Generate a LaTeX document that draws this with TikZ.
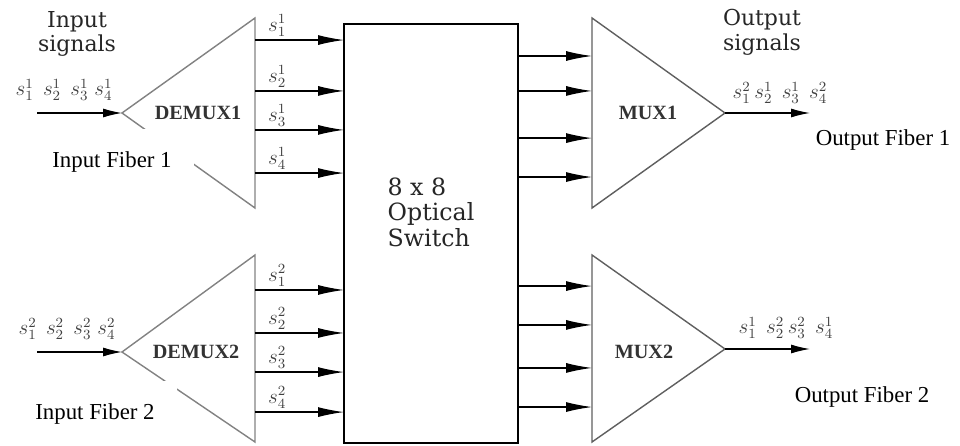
\documentclass[tikz,border=0pt]{standalone}
\usepackage{fontspec}
\setmainfont{Liberation Serif}
\newfontfamily\schfont{DejaVu Serif}
\usetikzlibrary{positioning,arrows.meta,calc}
\definecolor{DemuxGray}{RGB}{130,130,130}
\definecolor{MuxGray}{RGB}{95,95,95}
\tikzset{
  sig/.style={-{Latex[length=5.2mm,width=2mm]},line width=0.7pt,draw=black},
  fibre/.style={-{Latex[length=3.8mm,width=1.8mm]},line width=0.7pt,draw=black},
  demux/.style={draw=DemuxGray,line width=0.8pt},
  mux/.style={draw=MuxGray,line width=0.8pt},
  swbox/.style={draw,line width=0.8pt,minimum width=3.48cm,minimum height=8.38cm,inner sep=0pt,outer sep=0pt},
  swtext/.style={align=left,font=\schfont\fontsize{13.5}{14.5}\selectfont,text=black!85},
  unit/.style={font=\bfseries\fontsize{11.5}{13}\selectfont,text=black!80},
  wl/.style={pos=0.25,above,inner sep=1.5pt,font=\fontsize{11.5}{12}\selectfont,text=black!75},
  wlist/.style={font=\fontsize{11.5}{12}\selectfont,text=black!75},
  head/.style={align=center,font=\schfont\fontsize{12.5}{14}\selectfont,text=black!85},
  infib/.style={fill=white,inner xsep=0.45cm,inner ysep=0.45cm,font=\fontsize{13}{15}\selectfont},
  outfib/.style={font=\fontsize{13}{15}\selectfont},
}
\begin{document}
\begin{tikzpicture}[x=0.02cm,y=-0.02cm]
  \useasboundingbox (0,0) rectangle (960,446);
  % switch in the middle
  \node[swbox] (sw) at (431,233.5) {};
  \node[swtext] (swt) at (431,212) {8 x 8\\Optical\\Switch};
  % demultiplexers and multiplexers
  \coordinate (d1a) at (122,113); \coordinate (d1t) at (255,18); \coordinate (d1b) at (255,208);
  \coordinate (d2a) at (122,352); \coordinate (d2t) at (255,255); \coordinate (d2b) at (255,442);
  \coordinate (m1a) at (725,113); \coordinate (m1t) at (592,18); \coordinate (m1b) at (592,208);
  \coordinate (m2a) at (725,349); \coordinate (m2t) at (592,255); \coordinate (m2b) at (592,442);
  \draw[demux] (d1a) -- (d1t) -- (d1b) -- cycle;
  \draw[demux] (d2a) -- (d2t) -- (d2b) -- cycle;
  \draw[mux] (m1a) -- (m1t) -- (m1b) -- cycle;
  \draw[mux] (m2a) -- (m2t) -- (m2b) -- cycle;
  \node[unit] (d1) at (198,113) {DEMUX1};
  \node[unit] (d2) at (196,352) {DEMUX2};
  \node[unit] (m1) at (648,113) {MUX1};
  \node[unit] (m2) at (644,352) {MUX2};
  % ports on the triangle edges
  \path (d1t) -- (d1b) coordinate[pos=.116] (d1o1) coordinate[pos=.384] (d1o2) coordinate[pos=.589] (d1o3) coordinate[pos=.816] (d1o4);
  \path (d2t) -- (d2b) coordinate[pos=.187] (d2o1) coordinate[pos=.417] (d2o2) coordinate[pos=.626] (d2o3) coordinate[pos=.840] (d2o4);
  \path (m1t) -- (m1b) coordinate[pos=.200] (m1i1) coordinate[pos=.384] (m1i2) coordinate[pos=.632] (m1i3) coordinate[pos=.837] (m1i4);
  \path (m2t) -- (m2b) coordinate[pos=.166] (m2i1) coordinate[pos=.374] (m2i2) coordinate[pos=.604] (m2i3) coordinate[pos=.813] (m2i4);
  % demux -> switch
  \draw[sig] (d1o1) -- node[wl]{$s_1^1$} (d1o1 -| sw.west); \draw[sig] (d1o2) -- node[wl]{$s_2^1$} (d1o2 -| sw.west);
  \draw[sig] (d1o3) -- node[wl]{$s_3^1$} (d1o3 -| sw.west); \draw[sig] (d1o4) -- node[wl]{$s_4^1$} (d1o4 -| sw.west);
  \draw[sig] (d2o1) -- node[wl]{$s_1^2$} (d2o1 -| sw.west); \draw[sig] (d2o2) -- node[wl]{$s_2^2$} (d2o2 -| sw.west);
  \draw[sig] (d2o3) -- node[wl]{$s_3^2$} (d2o3 -| sw.west); \draw[sig] (d2o4) -- node[wl]{$s_4^2$} (d2o4 -| sw.west);
  % switch -> mux
  \draw[sig] (m1i1 -| sw.east) -- (m1i1); \draw[sig] (m1i2 -| sw.east) -- (m1i2);
  \draw[sig] (m1i3 -| sw.east) -- (m1i3); \draw[sig] (m1i4 -| sw.east) -- (m1i4);
  \draw[sig] (m2i1 -| sw.east) -- (m2i1); \draw[sig] (m2i2 -| sw.east) -- (m2i2);
  \draw[sig] (m2i3 -| sw.east) -- (m2i3); \draw[sig] (m2i4 -| sw.east) -- (m2i4);
  % fibres in and out
  \coordinate (in1) at (37,113); \coordinate (in2) at (37,352);
  \coordinate (out1) at (810,113); \coordinate (out2) at (810,349);
  \draw[fibre] (in1) -- (d1a); \draw[fibre] (in2) -- (d2a);
  \draw[fibre] (m1a) -- (out1); \draw[fibre] (m2a) -- (out2);
  \node[wlist] (sin1) at (64,90) {$s_1^1\;\, s_2^1\;\, s_3^1\; s_4^1$};
  \node[wlist] (sin2) at (67,329) {$s_1^2\;\, s_2^2\;\, s_3^2\; s_4^2$};
  \node[wlist] (sout1) at (780,93) {$s_1^2\, s_2^1\;\, s_3^1\;\, s_4^2$};
  \node[wlist] (sout2) at (786,328) {$s_1^1\;\, s_2^2\, s_3^2\;\, s_4^1$};
  \node[head] (ihead) at (77,34) {Input\\signals};
  \node[head] (ohead) at (762,32) {Output\\signals};
  \node[infib] (if1) at (112,162) {Input Fiber 1};
  \node[infib] (if2) at (95,414) {Input Fiber 2};
  \node[outfib] (of1) at (883,140) {Output Fiber 1};
  \node[outfib] (of2) at (862,397) {Output Fiber 2};
\end{tikzpicture}
\end{document}
